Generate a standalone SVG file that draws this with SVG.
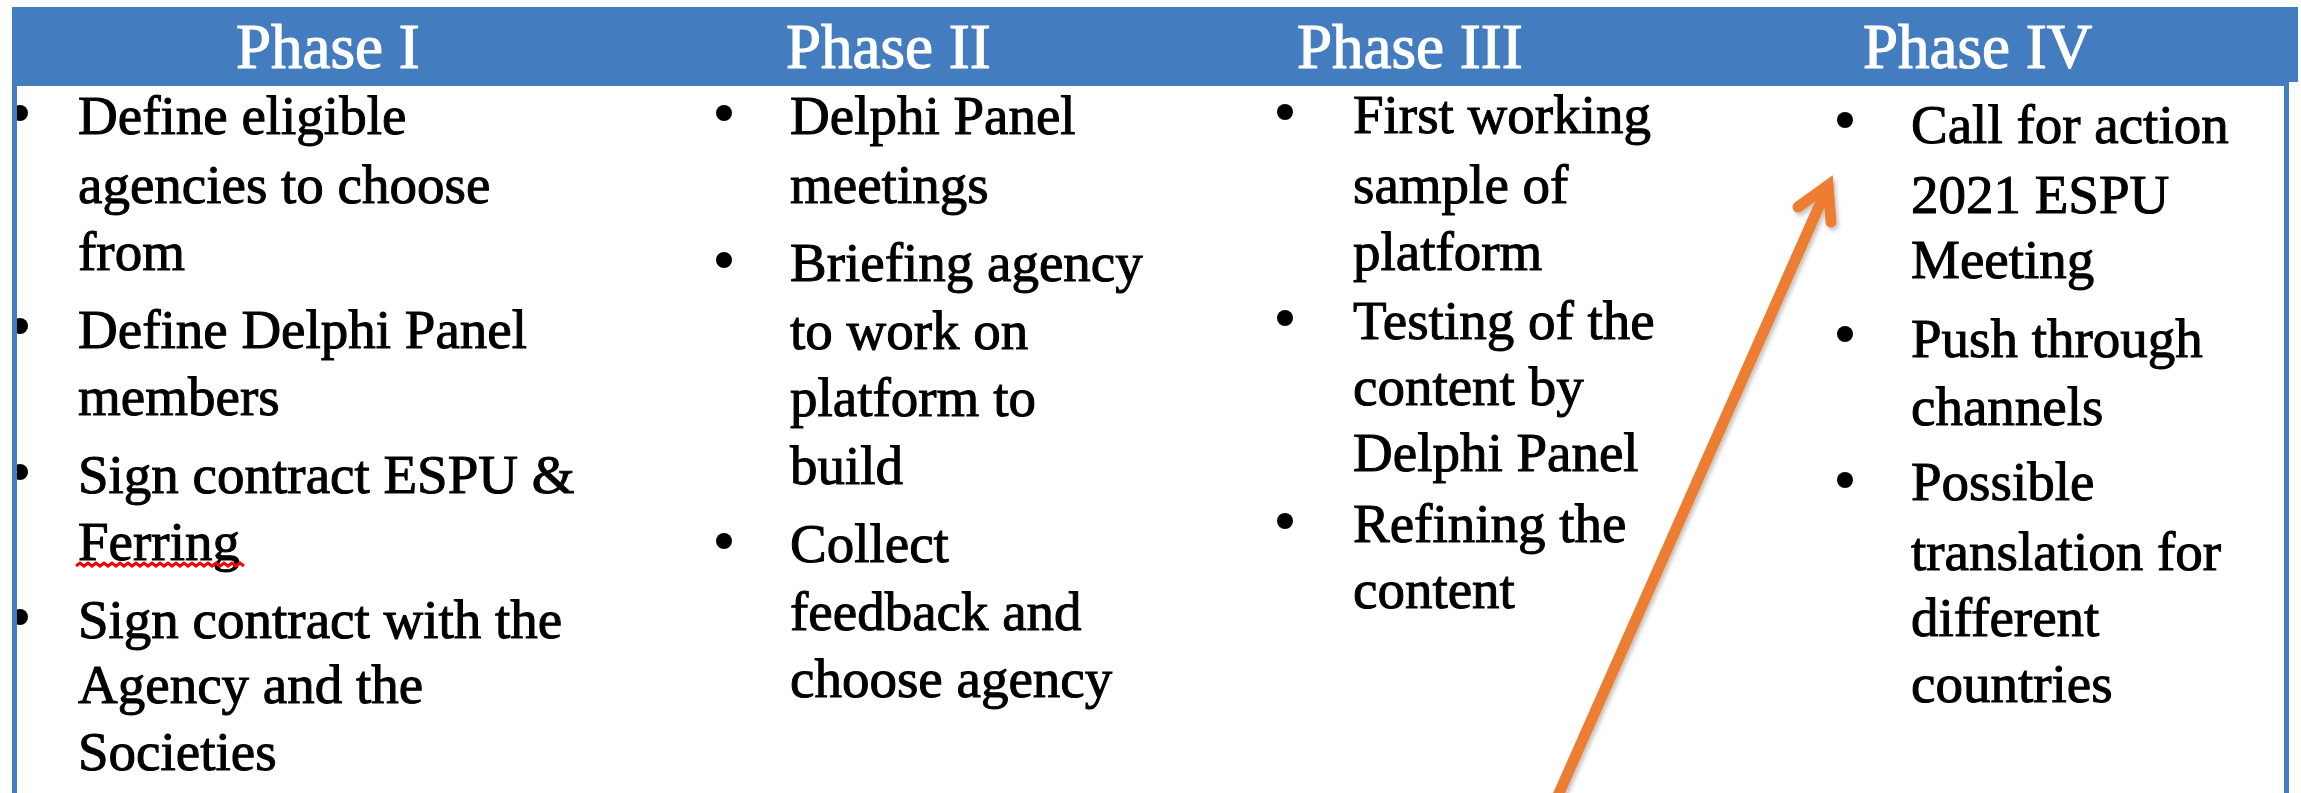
<svg xmlns="http://www.w3.org/2000/svg" width="2301" height="793" viewBox="0 0 2301 793">
  <style>
    .hdr { font-family: "Liberation Serif", "Times New Roman", serif; font-size: 63px; fill: #ffffff; stroke: #ffffff; stroke-width: 1.2px; }
    .txt { font-family: "Liberation Serif", "Times New Roman", serif; font-size: 55px; fill: #000000; stroke: #000000; stroke-width: 1px; }
    .bul { fill: #000000; }
    .frame { fill: #437dc0; }
    .arrow { fill: none; stroke: #ed7d31; stroke-width: 11; stroke-linecap: round; }
  </style>
  <defs>
    <filter id="shadow" x="-10%" y="-10%" width="130%" height="130%">
      <feDropShadow dx="2" dy="3" stdDeviation="2" flood-color="#000000" flood-opacity="0.25"/>
    </filter>
  </defs>
  <rect x="0" y="0" width="2301" height="793" fill="#ffffff"/>

  <g id="phase1">
    <circle class="bul" cx="20" cy="113" r="8"/>
    <circle class="bul" cx="20" cy="326" r="8"/>
    <circle class="bul" cx="20" cy="472" r="8"/>
    <circle class="bul" cx="20" cy="617" r="8"/>
    <text class="txt" x="78" y="134">Define eligible</text>
    <text class="txt" x="78" y="203">agencies to choose</text>
    <text class="txt" x="78" y="270">from</text>
    <text class="txt" x="78" y="348">Define Delphi Panel</text>
    <text class="txt" x="78" y="415">members</text>
    <text class="txt" x="78" y="493">Sign contract ESPU &amp;</text>
    <text class="txt" x="78" y="560">Ferring</text>
    <path d="M76 566 l4 -3 l4 3 l4 -3 l4 3 l4 -3 l4 3 l4 -3 l4 3 l4 -3 l4 3 l4 -3 l4 3 l4 -3 l4 3 l4 -3 l4 3 l4 -3 l4 3 l4 -3 l4 3 l4 -3 l4 3 l4 -3 l4 3 l4 -3 l4 3 l4 -3 l4 3 l4 -3 l4 3 l4 -3 l4 3 l4 -3 l4 3 l4 -3 l4 3 l4 -3 l4 3 l4 -3 l4 3 l4 -3 l4 3" fill="none" stroke="#ff0000" stroke-width="3"/>
    <text class="txt" x="78" y="638">Sign contract with the</text>
    <text class="txt" x="78" y="703">Agency and the</text>
    <text class="txt" x="78" y="770">Societies</text>
  </g>

  <g id="phase2">
    <circle class="bul" cx="724" cy="113" r="8"/>
    <circle class="bul" cx="724" cy="260" r="8"/>
    <circle class="bul" cx="724" cy="541" r="8"/>
    <text class="txt" x="790" y="134">Delphi Panel</text>
    <text class="txt" x="790" y="203">meetings</text>
    <text class="txt" x="790" y="281">Briefing agency</text>
    <text class="txt" x="790" y="349">to work on</text>
    <text class="txt" x="790" y="416">platform to</text>
    <text class="txt" x="790" y="484">build</text>
    <text class="txt" x="790" y="562">Collect</text>
    <text class="txt" x="790" y="630">feedback and</text>
    <text class="txt" x="790" y="697">choose agency</text>
  </g>

  <g id="phase3">
    <circle class="bul" cx="1285" cy="112" r="8"/>
    <circle class="bul" cx="1285" cy="318" r="8"/>
    <circle class="bul" cx="1285" cy="521" r="8"/>
    <text class="txt" x="1353" y="133">First working</text>
    <text class="txt" x="1353" y="203">sample of</text>
    <text class="txt" x="1353" y="270">platform</text>
    <text class="txt" x="1353" y="339">Testing of the</text>
    <text class="txt" x="1353" y="405">content by</text>
    <text class="txt" x="1353" y="471">Delphi Panel</text>
    <text class="txt" x="1353" y="542">Refining the</text>
    <text class="txt" x="1353" y="608">content</text>
  </g>

  <g id="phase4">
    <circle class="bul" cx="1845" cy="120" r="8"/>
    <circle class="bul" cx="1845" cy="334" r="8"/>
    <circle class="bul" cx="1845" cy="480" r="8"/>
    <text class="txt" x="1911" y="143">Call for action</text>
    <text class="txt" x="1911" y="213">2021 ESPU</text>
    <text class="txt" x="1911" y="278">Meeting</text>
    <text class="txt" x="1911" y="357">Push through</text>
    <text class="txt" x="1911" y="425">channels</text>
    <text class="txt" x="1911" y="500">Possible</text>
    <text class="txt" x="1911" y="570">translation for</text>
    <text class="txt" x="1911" y="636">different</text>
    <text class="txt" x="1911" y="702">countries</text>
  </g>

  <g id="header">
    <rect class="frame" x="12" y="7" width="2286" height="75"/>
    <rect class="frame" x="12" y="81" width="2277" height="5"/>
    <rect class="frame" x="12" y="7" width="5" height="786"/>
    <rect class="frame" x="2284" y="7" width="5" height="786"/>
    <text class="hdr" x="236" y="68">Phase I</text>
    <text class="hdr" x="786" y="68">Phase II</text>
    <text class="hdr" x="1297" y="68">Phase III</text>
    <text class="hdr" x="1863" y="68">Phase IV</text>
  </g>

  <g id="connectors" filter="url(#shadow)">
    <path class="arrow" d="M1556 800 L1828 186"/>
    <path class="arrow" d="M1798 207 L1828 185.5 L1831 222" stroke-linejoin="miter" stroke-miterlimit="10"/>
  </g>
</svg>
